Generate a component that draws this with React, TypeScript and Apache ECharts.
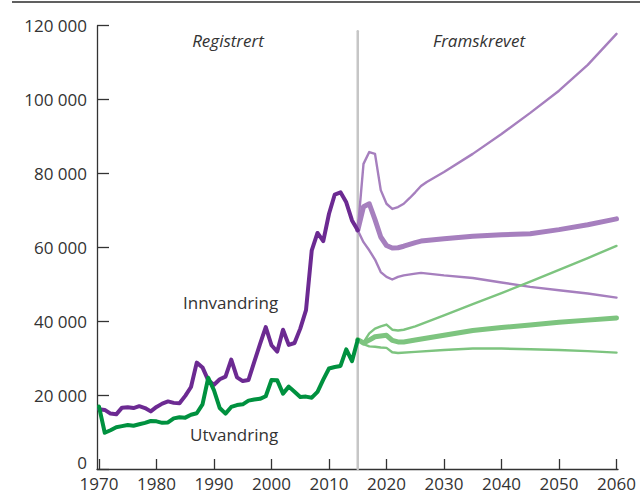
import React, { useEffect, useRef } from "react";
import * as echarts from "echarts";

// ---- Data ----
const histYears = [
  1970, 1971, 1972, 1973, 1974, 1975, 1976, 1977, 1978, 1979,
  1980, 1981, 1982, 1983, 1984, 1985, 1986, 1987, 1988, 1989,
  1990, 1991, 1992, 1993, 1994, 1995, 1996, 1997, 1998, 1999,
  2000, 2001, 2002, 2003, 2004, 2005, 2006, 2007, 2008, 2009,
  2010, 2011, 2012, 2013, 2014, 2015,
];
const innvandring = [
  16200, 16000, 15000, 14800, 16600, 16700, 16500, 17000, 16500, 15600,
  16800, 17700, 18300, 17900, 17800, 19800, 22200, 28800, 27500, 24000,
  22800, 24300, 25000, 29600, 24800, 23800, 24100, 29000, 33800, 38400,
  33500, 31800, 37700, 33600, 34100, 38000, 43000, 59200, 63900, 61700,
  69100, 74300, 74900, 72200, 67300, 64600,
];
const utvandring = [
  16900, 9800, 10500, 11300, 11600, 11900, 11700, 12100, 12500, 13000,
  12900, 12500, 12600, 13700, 14000, 13900, 14700, 15100, 17500, 24700,
  21300, 16500, 15000, 16800, 17300, 17500, 18500, 18800, 19000, 19700,
  24100, 24000, 20400, 22300, 20900, 19500, 19600, 19300, 20900, 24200,
  27200, 27600, 27900, 32400, 29200, 35000,
];

const innHighYears = [2015, 2016, 2017, 2018, 2019, 2020, 2021, 2022, 2023, 2024, 2025, 2026, 2027, 2030, 2035, 2040, 2045, 2050, 2055, 2060];
const innHigh = [64600, 82600, 85800, 85300, 75500, 71800, 70400, 70900, 71800, 73300, 74900, 76600, 77700, 80400, 85300, 90700, 96400, 102400, 109400, 117800];

const innMainYears = [2015, 2016, 2017, 2018, 2019, 2020, 2021, 2022, 2023, 2025, 2026, 2030, 2035, 2040, 2045, 2050, 2055, 2060];
const innMain = [64600, 71000, 71800, 67500, 62800, 60500, 59800, 59900, 60300, 61300, 61700, 62300, 63000, 63400, 63700, 64800, 66100, 67700];

const innLowYears = [2015, 2016, 2017, 2018, 2019, 2020, 2021, 2022, 2023, 2025, 2026, 2030, 2035, 2040, 2045, 2050, 2055, 2060];
const innLow = [64600, 61400, 59200, 56700, 53300, 52000, 51300, 52000, 52400, 52900, 53100, 52400, 51700, 50500, 49300, 48400, 47500, 46400];

const utHighYears = [2015, 2016, 2017, 2018, 2019, 2020, 2021, 2022, 2023, 2025, 2030, 2035, 2040, 2045, 2050, 2055, 2060];
const utHigh = [35000, 34300, 36700, 38000, 38600, 39100, 37700, 37500, 37700, 38600, 41600, 44600, 47600, 50700, 53900, 57100, 60400];

const utMainYears = [2015, 2016, 2017, 2018, 2019, 2020, 2021, 2022, 2023, 2025, 2030, 2035, 2040, 2045, 2050, 2055, 2060];
const utMain = [35000, 34100, 34900, 35800, 36000, 36200, 34800, 34400, 34400, 34900, 36200, 37500, 38300, 39000, 39700, 40300, 40900];

const utLowYears = [2015, 2016, 2017, 2018, 2019, 2020, 2021, 2022, 2025, 2030, 2035, 2040, 2045, 2050, 2055, 2060];
const utLow = [35000, 33800, 33200, 33100, 32900, 32800, 31600, 31400, 31700, 32200, 32600, 32600, 32400, 32200, 31900, 31500];

const xTicks = [1970, 1980, 1990, 2000, 2010, 2020, 2030, 2040, 2050, 2060];
const dividerYear = 2015;
const dividerRange = [0, 118500];

const FONT = "'Open Sans', sans-serif";
const TEXT = "#333333";

const pairs = (xs: number[], ys: number[]) => xs.map((x, i) => [x, ys[i]]);

export default function App() {
  const ref = useRef<HTMLDivElement>(null);
  useEffect(() => {
    if (!ref.current) return;
    const chart = echarts.init(ref.current, undefined, { renderer: "svg" });
    const fmt = (v: number) =>
      v === 0 ? "{z|0}" : String(v).replace(/\B(?=(\d{3})+(?!\d))/g, " ");
    const line = (data: number[][], color: string, width: number, z = 2) => ({
      type: "line",
      data,
      showSymbol: false,
      symbol: "none",
      silent: true,
      z,
      lineStyle: { color, width, join: "round", cap: "round" },
    });
    chart.setOption({
      animation: false,
      grid: { left: 97, right: 22, top: 25.7, bottom: 26, containLabel: false },
      xAxis: {
        type: "value",
        min: 1969.652,
        max: 2060.26,
        axisLine: { show: true, lineStyle: { color: "#333", width: 1.3 } },
        axisTick: { show: true, inside: true, length: 10, customValues: xTicks, lineStyle: { color: "#333", width: 1.3 } },
        axisLabel: {
          customValues: xTicks,
          fontSize: 17,
          lineHeight: 17,
          color: TEXT,
          margin: 6,
          fontFamily: FONT,
          formatter: (v: number) => String(v),
        },
        splitLine: { show: false },
      },
      yAxis: {
        type: "value",
        min: 0,
        max: 120000,
        interval: 20000,
        axisLine: { show: true, lineStyle: { color: "#333", width: 1.3 } },
        axisTick: { show: true, inside: true, length: 12, lineStyle: { color: "#333", width: 1.3 } },
        axisLabel: {
          fontSize: 17,
          color: TEXT,
          margin: 10,
          fontFamily: FONT,
          formatter: fmt,
          rich: { z: { fontSize: 17, color: TEXT, fontFamily: FONT, padding: [0, 0, 14, 0] } },
        },
        splitLine: { show: false },
      },
      series: [
        line([[dividerYear, dividerRange[0]], [dividerYear, dividerRange[1]]], "#c6c6c6", 2.5, 1),
        line(pairs(innHighYears, innHigh), "#a67fbe", 2.4),
        line(pairs(innLowYears, innLow), "#a67fbe", 2.4),
        line(pairs(innMainYears, innMain), "#a67fbe", 5),
        line(pairs(utHighYears, utHigh), "#7dc47f", 2.4),
        line(pairs(utLowYears, utLow), "#7dc47f", 2.4),
        line(pairs(utMainYears, utMain), "#7dc47f", 5),
        line(pairs(histYears, innvandring), "#6c2a92", 4, 3),
        line(pairs(histYears, utvandring), "#00913f", 4, 3),
      ],
      graphic: [
        { type: "line", shape: { x1: 12, y1: 2, x2: 640, y2: 2 }, style: { stroke: "#2b2b2b", lineWidth: 1.5 } },
        { type: "text", x: 228, y: 40, style: { text: "Registrert", fontSize: 17, fontStyle: "italic", fontFamily: FONT, fill: TEXT, textAlign: "center", textVerticalAlign: "middle" } },
        { type: "text", x: 479, y: 40, style: { text: "Framskrevet", fontSize: 17, fontStyle: "italic", fontFamily: FONT, fill: TEXT, textAlign: "center", textVerticalAlign: "middle" } },
        { type: "text", x: 183, y: 302, style: { text: "Innvandring", fontSize: 17, fontFamily: FONT, fill: TEXT, textAlign: "left", textVerticalAlign: "middle" } },
        { type: "text", x: 190, y: 434, style: { text: "Utvandring", fontSize: 17, fontFamily: FONT, fill: TEXT, textAlign: "left", textVerticalAlign: "middle" } },
      ],
    });
    return () => chart.dispose();
  }, []);
  return (
    <div
      ref={ref}
      style={{ position: "fixed", left: 0, top: 0, width: 640, height: 495, background: "#fff" }}
    />
  );
}
